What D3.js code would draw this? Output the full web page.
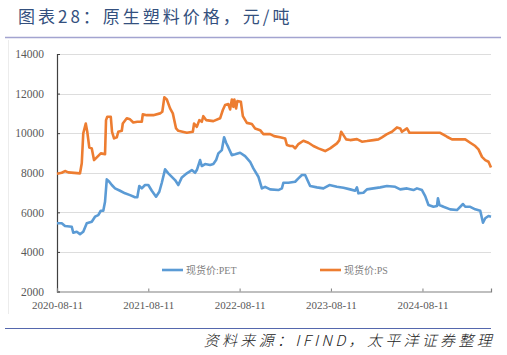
<!DOCTYPE html>
<html>
<head>
<meta charset="utf-8">
<script src="https://cdn.jsdelivr.net/npm/d3@7/dist/d3.min.js"></script>
<style>
  body { margin: 0; background: #fff; }
  svg { display: block; }
</style>
</head>
<body>
<div id="chart"></div>
<script>
// 现货价:PET
const petDates = ["2020-08-11","2020-08-30","2020-09-12","2020-10-09","2020-10-15","2020-10-29","2020-11-11","2020-11-24",
  "2020-12-08","2020-12-28","2021-01-10","2021-01-23","2021-02-02","2021-02-12","2021-02-19","2021-02-26","2021-03-08",
  "2021-03-18","2021-03-31","2021-04-20","2021-05-10","2021-05-30","2021-06-19","2021-06-28","2021-07-06","2021-07-16",
  "2021-07-29","2021-08-11","2021-08-25","2021-09-11","2021-09-24","2021-10-04","2021-10-17","2021-10-30","2021-11-26",
  "2021-12-09","2021-12-23","2022-01-12","2022-02-01","2022-02-14","2022-02-21","2022-03-06","2022-03-13","2022-03-26",
  "2022-04-15","2022-04-28","2022-05-09","2022-05-18","2022-06-01","2022-06-10","2022-06-18","2022-06-27","2022-07-11",
  "2022-07-24","2022-08-13","2022-09-02","2022-09-22","2022-10-05","2022-10-25","2022-11-08","2022-11-21","2022-12-11",
  "2023-01-13","2023-01-27","2023-02-02","2023-02-22","2023-03-21","2023-04-03","2023-04-17","2023-04-30","2023-05-09",
  "2023-05-20","2023-06-16","2023-07-12","2023-08-05","2023-09-04","2023-09-30","2023-10-27","2023-11-16","2023-11-23",
  "2023-11-29","2023-12-19","2024-01-02","2024-01-28","2024-02-24","2024-03-22","2024-04-24","2024-05-14","2024-06-10",
  "2024-07-06","2024-07-20","2024-08-09","2024-08-22","2024-09-04","2024-09-24","2024-10-08","2024-10-12","2024-10-18",
  "2024-11-03","2024-11-30","2024-12-27","2025-01-20","2025-01-29","2025-02-18","2025-03-10","2025-03-30","2025-04-10",
  "2025-04-19","2025-05-02","2025-05-12"];
const petValues = [5445,5445,5310,5270,4970,5020,4900,5020,
  5445,5525,5780,5860,6080,6080,6535,7665,7545,
  7380,7210,7090,6960,6870,6760,6760,7330,7210,
  7380,7380,7090,6790,7040,7495,8170,7970,7630,
  7380,7765,7970,8135,8000,8135,8640,8340,8440,
  8390,8440,8640,8980,9145,9790,9515,9280,8890,
  8930,9010,8840,8555,8220,7800,7210,7290,7160,
  7125,7210,7495,7495,7545,7715,7885,7885,7630,
  7330,7260,7210,7380,7290,7240,7160,7090,7260,
  6960,6990,7160,7210,7260,7330,7290,7160,7210,
  7125,7210,7125,6820,6370,6280,6320,6710,6370,
  6280,6150,6115,6420,6280,6280,6150,6080,5475,
  5700,5815,5780];

// 现货价:PS
const psDates = ["2020-08-11","2020-08-30","2020-09-12","2020-09-25","2020-11-11","2020-11-18","2020-11-24","2020-12-04",
  "2020-12-10","2020-12-18","2020-12-28","2021-01-06","2021-01-17","2021-02-02","2021-02-19","2021-02-23","2021-02-28",
  "2021-03-14","2021-03-19","2021-03-27","2021-04-07","2021-04-13","2021-04-27","2021-05-01","2021-05-17","2021-05-30",
  "2021-06-12","2021-06-28","2021-07-16","2021-07-20","2021-08-05","2021-08-31","2021-09-27","2021-10-06","2021-10-14",
  "2021-10-24","2021-11-06","2021-11-17","2021-11-30","2021-12-09","2022-01-12","2022-02-05","2022-02-10","2022-02-21",
  "2022-03-03","2022-03-13","2022-03-19","2022-03-30","2022-04-28","2022-05-25","2022-06-05","2022-06-14","2022-06-27",
  "2022-07-04","2022-07-11","2022-07-17","2022-07-21","2022-07-28","2022-08-02","2022-08-16","2022-08-24","2022-09-09",
  "2022-09-29","2022-10-12","2022-11-01","2022-11-14","2022-12-11","2022-12-27","2023-01-20","2023-02-09","2023-02-16",
  "2023-03-01","2023-03-12","2023-03-21","2023-04-03","2023-04-23","2023-05-13","2023-06-02","2023-06-22","2023-07-19",
  "2023-08-08","2023-09-04","2023-09-14","2023-09-21","2023-09-30","2023-10-11","2023-10-27","2023-11-23","2023-12-13",
  "2024-01-02","2024-01-28","2024-02-17","2024-03-02","2024-03-22","2024-04-11","2024-05-01","2024-05-14","2024-05-21",
  "2024-06-10","2024-06-20","2024-07-20","2024-09-11","2024-10-21","2024-11-17","2024-12-07","2025-01-29","2025-02-18",
  "2025-03-10","2025-03-23","2025-04-06","2025-04-19","2025-05-02","2025-05-12"];
const psValues = [7950,8000,8085,8020,7970,8475,9990,10490,
  10070,9280,9230,8640,8780,8980,8940,10660,10830,
  10830,10070,9735,9790,10070,10120,10490,10750,10700,
  10540,10575,10575,10950,10910,10910,11000,11080,11810,
  11700,11250,11000,10240,10120,10020,10070,10490,10320,
  10660,10575,10860,10660,10610,10750,11170,11420,11470,
  11200,11700,11330,11700,11250,11620,11585,10860,10520,
  10460,10240,10150,9950,9950,9850,9790,9735,9400,
  9350,9350,9230,9450,9615,9515,9350,9230,9095,
  9230,9485,9650,10070,9900,9685,9650,9700,9570,
  9600,9650,9685,9790,9950,10070,10290,10240,10070,
  10240,10020,10020,10020,10020,9820,9685,9685,9515,
  9350,9180,8800,8640,8555,8270];

const yTicks = [2000, 4000, 6000, 8000, 10000, 12000, 14000];
const xTicks = ["2020-08-11", "2021-08-11", "2022-08-11", "2023-08-11", "2024-08-11"];
const xDomain = ["2020-08-11", "2025-05-12"];

const seriesNames = ["现货价:PET", "现货价:PS"];
const seriesColors = ["#5b9bd5", "#ed7d31"];

const width = 507, height = 355;
const margin = {top: 54, right: 16, bottom: 63.5, left: 57};
const parse = d3.timeParse("%Y-%m-%d");

const svg = d3.select("#chart").append("svg")
    .attr("width", width)
    .attr("height", height);

// title
svg.append("text")
    .attr("x", 18)
    .attr("y", 23)
    .attr("font-family", "'Noto Sans CJK SC', sans-serif")
    .attr("font-size", 17)
    .attr("letter-spacing", 3)
    .attr("fill", "#34507e")
    .text("图表28：原生塑料价格，元/吨");

svg.append("line")
    .attr("x1", 5).attr("x2", 501)
    .attr("y1", 37.5).attr("y2", 37.5)
    .attr("stroke", "#a3a4d0")
    .attr("stroke-width", 1.5);

// faint frame line at the left
svg.append("line")
    .attr("x1", 8.5).attr("x2", 8.5)
    .attr("y1", 40).attr("y2", 314)
    .attr("stroke", "#ececec");

const x = d3.scaleTime()
    .domain(xDomain.map(parse))
    .range([margin.left, width - margin.right]);

const y = d3.scaleLinear()
    .domain([2000, 14000])
    .range([height - margin.bottom, margin.top]);

// grid
svg.append("g")
    .selectAll("line")
    .data(yTicks.slice(1))
    .enter().append("line")
    .attr("x1", margin.left)
    .attr("x2", width - margin.right)
    .attr("y1", d => Math.round(y(d)) + 0.5)
    .attr("y2", d => Math.round(y(d)) + 0.5)
    .attr("stroke", "#dddddd")
    .attr("stroke-width", 1.2);

// y axis
const yAxis = svg.append("g")
    .attr("transform", "translate(" + margin.left + ",0)")
    .call(d3.axisRight(y).tickValues(yTicks).tickSize(3).tickFormat(d3.format("d")));
yAxis.select(".domain").attr("stroke", "#404040").attr("stroke-width", 1.2);
yAxis.selectAll(".tick line").attr("stroke", "#404040");
yAxis.selectAll("text")
    .attr("x", -13)
    .attr("text-anchor", "end")
    .attr("fill", "#595959")
    .attr("font-family", "'Liberation Serif', serif")
    .attr("font-size", 11.5);

// x axis
const xAxis = svg.append("g")
    .attr("transform", "translate(0," + (height - margin.bottom) + ")")
    .call(d3.axisTop(x).tickValues(xTicks.map(parse)).tickSize(3).tickFormat(d3.timeFormat("%Y-%m-%d")));
xAxis.select(".domain").attr("stroke", "#808080").attr("stroke-width", 1.2);
xAxis.selectAll(".tick line").attr("stroke", "#808080");
xAxis.selectAll("text")
    .attr("y", 17)
    .attr("dy", "0")
    .attr("fill", "#595959")
    .attr("font-family", "'Liberation Serif', serif")
    .attr("font-size", 11);

// lines
const line = d3.line()
    .x(d => x(d.date))
    .y(d => y(d.value));

const series = [
    petDates.map((d, i) => ({date: parse(d), value: petValues[i]})),
    psDates.map((d, i) => ({date: parse(d), value: psValues[i]}))
];

series.forEach(function (s, i) {
    svg.append("path")
        .datum(s)
        .attr("fill", "none")
        .attr("stroke", seriesColors[i])
        .attr("stroke-width", 2.6)
        .attr("stroke-linejoin", "round")
        .attr("d", line);
});

// legend
const legendX = [162, 320];
seriesNames.forEach(function (n, i) {
    svg.append("line")
        .attr("x1", legendX[i]).attr("x2", legendX[i] + 21)
        .attr("y1", 270).attr("y2", 270)
        .attr("stroke", seriesColors[i])
        .attr("stroke-width", 2.6);
    svg.append("text")
        .attr("x", legendX[i] + 24)
        .attr("y", 273.5)
        .attr("font-family", "'Liberation Serif', 'Noto Sans CJK SC', serif")
        .attr("font-size", 10)
        .attr("fill", "#7f7f7f")
        .text(n);
});

// bottom rule and source
svg.append("line")
    .attr("x1", 5).attr("x2", 491)
    .attr("y1", 328.5).attr("y2", 328.5)
    .attr("stroke", "#5567ad")
    .attr("stroke-width", 1.2);

svg.append("text")
    .attr("x", 495)
    .attr("y", 346)
    .attr("text-anchor", "end")
    .attr("font-family", "'Noto Sans CJK SC', sans-serif")
    .attr("font-style", "italic")
    .attr("font-weight", 300)
    .attr("font-size", 15)
    .attr("letter-spacing", 3.3)
    .attr("fill", "#222")
    .text("资料来源：IFIND，太平洋证券整理");
</script>
</body>
</html>
